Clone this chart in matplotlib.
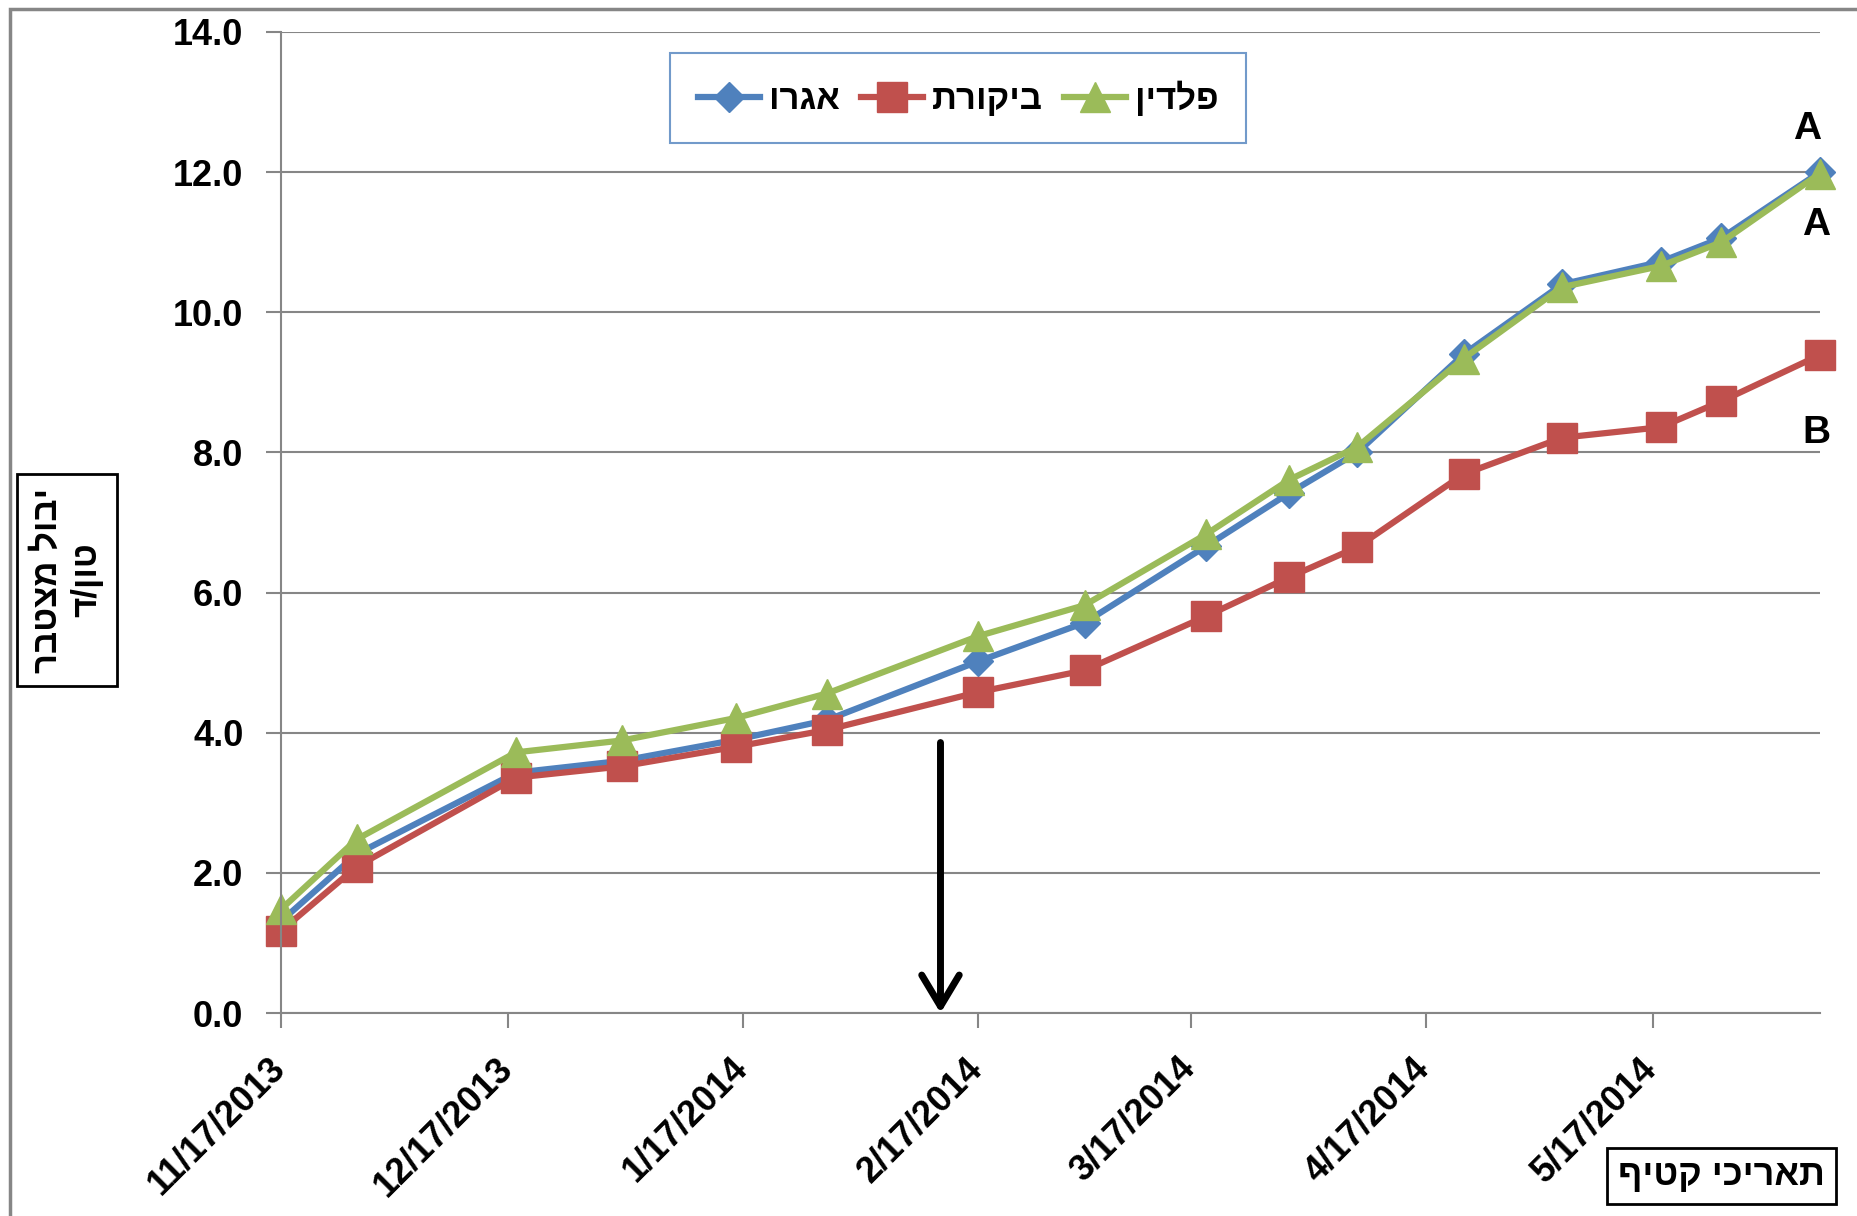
import datetime as dt

import matplotlib
matplotlib.use('Agg')
import matplotlib.pyplot as plt
import matplotlib.dates as mdates
import matplotlib.transforms as mtransforms
from matplotlib.patches import Rectangle
from matplotlib.ticker import FormatStrFormatter, FuncFormatter, MultipleLocator

# harvest dates and cumulative yield (ton / dunam)
dates = ['2013-11-17', '2013-11-27', '2013-12-18', '2014-01-01', '2014-01-16',
         '2014-01-28', '2014-02-17', '2014-03-03', '2014-03-19', '2014-03-30',
         '2014-04-08', '2014-04-22', '2014-05-05', '2014-05-18', '2014-05-26',
         '2014-06-08']
agro = [1.31, 2.27, 3.43, 3.60, 3.90, 4.18, 5.02, 5.57, 6.66, 7.42,
        8.00, 9.40, 10.40, 10.72, 11.06, 12.00]
control = [1.17, 2.09, 3.36, 3.52, 3.80, 4.04, 4.58, 4.89, 5.66, 6.22,
           6.65, 7.69, 8.21, 8.36, 8.73, 9.39]
paldin = [1.48, 2.48, 3.72, 3.89, 4.21, 4.56, 5.38, 5.82, 6.83, 7.61,
          8.08, 9.34, 10.36, 10.66, 11.00, 11.98]

series_names = ['אגרו', 'ביקורת', 'פלדין']
y_title = ['יבול מצטבר', 'טון/ד']
x_title = 'תאריכי קטיף'
letters = ['A', 'A', 'B']
letter_y = [12.62, 11.24, 8.28]
arrow_date = '2014-02-12'
arrow_top = 3.86

FONT = ['Liberation Sans', 'DejaVu Sans']
plt.rcParams['font.family'] = FONT
plt.rcParams['font.weight'] = 'bold'
GRAY = '#868686'


def rtl(s):
    # matplotlib has no bidi support, so lay hebrew out by hand
    return s[::-1]


x = [dt.datetime.strptime(d, '%Y-%m-%d') for d in dates]

fig = plt.figure(figsize=(18.57, 12.16), dpi=100)
ax = fig.add_axes([0.1513, 0.1669, 0.8287, 0.8068])

styles = [('#4F81BD', 'D', 15.5), ('#C0504D', 's', 21), ('#9BBB59', '^', 22)]
handles = []
for vals, (col, mk, ms) in zip([agro, control, paldin], styles):
    h, = ax.plot(x, vals, color=col, lw=4.5, marker=mk, ms=ms,
                 markeredgecolor=col, markeredgewidth=1, clip_on=False)
    handles.append(h)

ax.set_ylim(0, 14)
ax.set_xlim(x[0], x[-1])
ax.yaxis.set_major_locator(MultipleLocator(2))
ax.yaxis.set_major_formatter(FormatStrFormatter('%.1f'))
ax.xaxis.set_major_locator(mdates.MonthLocator(bymonthday=17))
ax.xaxis.set_major_formatter(FuncFormatter(
    lambda v, p: '{d.month}/{d.day}/{d.year}'.format(d=mdates.num2date(v))))

ax.grid(axis='y', color=GRAY, lw=1.5)
ax.set_axisbelow(True)
for s in ['top', 'right']:
    ax.spines[s].set_visible(False)
for s in ['left', 'bottom']:
    ax.spines[s].set_color(GRAY)
    ax.spines[s].set_linewidth(1.5)
ax.tick_params(axis='both', colors=GRAY, width=1.5, length=11, labelcolor='black',
               labelsize=26)
ax.tick_params(axis='y', pad=16)
ax.tick_params(axis='x', pad=16)
offset = mtransforms.ScaledTranslation(8 / 72, 0, fig.dpi_scale_trans)
for lab in ax.get_xticklabels():
    lab.set_rotation(45)
    lab.set_ha('right')
    lab.set_transform(lab.get_transform() + offset)
for lab in ax.get_xticklabels() + ax.get_yticklabels():
    lab.set_fontweight('bold')

leg = ax.legend(handles, [rtl(n) for n in series_names], ncol=3,
                loc='upper center', bbox_to_anchor=(0.44, 0.979),
                fontsize=25, frameon=True, fancybox=False, borderpad=0.8,
                handlelength=1.8, handletextpad=0.25, columnspacing=0.6,
                borderaxespad=0)
leg.get_frame().set_edgecolor('#4F81BD')
leg.get_frame().set_linewidth(1.5)

# group letters at the end of the lines
for t, yv, dx in zip(letters, letter_y, [-1.2, 0, 0]):
    ax.text(x[-1] + dt.timedelta(days=dx - 0.5), yv, t, fontsize=28,
            fontweight='bold', ha='center', va='center')

ad = dt.datetime.strptime(arrow_date, '%Y-%m-%d')
ax.annotate('', xy=(ad, 0), xytext=(ad, arrow_top),
            arrowprops=dict(arrowstyle='->,head_length=0.5,head_width=0.3',
                            lw=5, color='black', mutation_scale=45,
                            shrinkA=0, shrinkB=0))

fig.text(0.036, 0.523, rtl(y_title[0]) + '\n' + rtl(y_title[1]), rotation=90,
         ha='center', va='center', multialignment='center', fontsize=25,
         fontweight='bold', linespacing=1.25,
         bbox=dict(boxstyle='square,pad=0.4', fc='white', ec='black', lw=2))
fig.text(0.927, 0.033, rtl(x_title), ha='center', va='center', fontsize=26,
         fontweight='bold',
         bbox=dict(boxstyle='square,pad=0.3', fc='white', ec='black', lw=2))

# outer chart border, cut off at the right and bottom
fig.add_artist(Rectangle((10 / 1857, -0.2), 1.5, 1.2 - 9 / 1216,
                         transform=fig.transFigure, fill=False,
                         edgecolor=GRAY, lw=2.5))

fig.savefig('out.png', dpi=100)
